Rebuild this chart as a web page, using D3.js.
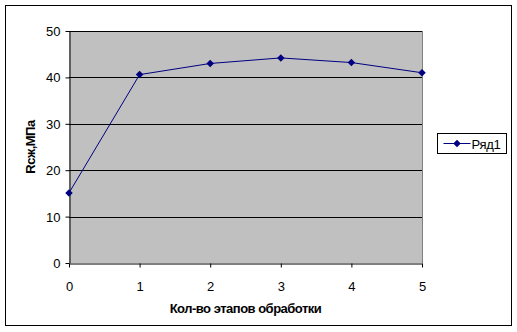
<!DOCTYPE html>
<html lang="ru">
<head>
<meta charset="UTF-8">
<title>Rсж vs кол-во этапов</title>
<script src="https://d3js.org/d3.v7.min.js"></script>
<style>
    body{ margin:0; background:#fff; }
    .chart{ font-family: "Liberation Sans", Arial, sans-serif; }
    .chart text{ fill:#000; }
</style>
</head>
<body>
<svg class="chart"></svg>
<script>
const stages = [0, 1, 2, 3, 4, 5];
const rsj = [15.1, 40.6, 43.0, 44.2, 43.2, 41.0];
const yTicks = [0, 10, 20, 30, 40, 50];
const seriesName = 'Ряд1';
const xTitle = 'Кол-во этапов обработки';
const yTitle = 'Rсж,МПа';

const W = 517, H = 332;
const margin = {top:31, right:95, bottom:69, left:69};
const width = W - margin.left - margin.right;
const height = H - margin.top - margin.bottom;

const svg = d3.select('.chart').attr('width', W).attr('height', H);

// outer frame
svg.append('rect')
    .attr('x', 5.5).attr('y', 5.5)
    .attr('width', 506).attr('height', 320)
    .attr('fill', '#fff').attr('stroke', '#000').attr('stroke-width', 1);

const x = d3.scaleLinear().domain([0, 5]).range([0, width]);
const y = d3.scaleLinear().domain([0, 50]).range([height, 0]);

const g = svg.append('g').attr('transform', 'translate(' + margin.left + ',' + margin.top + ')');

// plot area
g.append('rect')
    .attr('x', 0).attr('y', 0)
    .attr('width', width).attr('height', height)
    .attr('fill', '#c0c0c0');
g.append('line')
    .attr('x1', width + 0.5).attr('x2', width + 0.5)
    .attr('y1', 0).attr('y2', height)
    .attr('stroke', '#808080');

// gridlines
g.selectAll('.grid').data(yTicks.filter(d => d > 0)).enter()
    .append('line')
    .attr('x1', 0).attr('x2', width)
    .attr('y1', d => Math.round(y(d)) + 0.5).attr('y2', d => Math.round(y(d)) + 0.5)
    .attr('stroke', '#000');

const xAxis = g.append('g')
    .attr('transform', 'translate(0,' + (height + 0.5) + ')')
    .call(d3.axisBottom(x).tickValues(stages).tickFormat(d3.format('d'))
        .tickSize(4).tickPadding(14).tickSizeOuter(0));
const yAxis = g.append('g')
    .attr('transform', 'translate(0.5,0)')
    .call(d3.axisLeft(y).tickValues(yTicks).tickFormat(d3.format('d'))
        .tickSize(4).tickPadding(5).tickSizeOuter(0));

[xAxis, yAxis].forEach(a => {
    a.selectAll('text').attr('font-size', 13).attr('font-family', '"Liberation Sans", Arial, sans-serif');
    a.selectAll('line, path').attr('stroke', '#000');
});
yAxis.selectAll('text').attr('dy', '0.35em');

// series line
const line = d3.line().x((d, i) => x(stages[i])).y(d => y(d));
g.append('path')
    .datum(rsj)
    .attr('d', line)
    .attr('fill', 'none')
    .attr('stroke', '#000080')
    .attr('stroke-width', 1);

const diamond = d3.symbol().type(d3.symbolDiamond2).size(36);
g.selectAll('.pt').data(rsj).enter()
    .append('path')
    .attr('d', diamond)
    .attr('transform', (d, i) => 'translate(' + x(stages[i]) + ',' + y(d) + ')')
    .attr('fill', '#000080');

// axis titles
svg.append('text')
    .attr('x', margin.left + width / 2).attr('y', 313)
    .attr('text-anchor', 'middle')
    .attr('font-size', 13).attr('font-weight', 'bold')
    .attr('letter-spacing', -0.5)
    .text(xTitle);
svg.append('text')
    .attr('transform', 'translate(35,' + (margin.top + height / 2) + ') rotate(-90)')
    .attr('text-anchor', 'middle')
    .attr('font-size', 13).attr('font-weight', 'bold')
    .attr('letter-spacing', -0.5)
    .text(yTitle);

// legend
const lg = svg.append('g').attr('transform', 'translate(437.5,133.5)');
lg.append('rect')
    .attr('width', 69).attr('height', 20)
    .attr('fill', '#fff').attr('stroke', '#000');
lg.append('line')
    .attr('x1', 6).attr('x2', 33).attr('y1', 10).attr('y2', 10)
    .attr('stroke', '#000080');
lg.append('path')
    .attr('d', diamond)
    .attr('transform', 'translate(19.5,10)')
    .attr('fill', '#000080');
lg.append('text')
    .attr('x', 34).attr('y', 15)
    .attr('font-size', 13)
    .attr('letter-spacing', -0.3)
    .text(seriesName);
</script>
</body>
</html>
